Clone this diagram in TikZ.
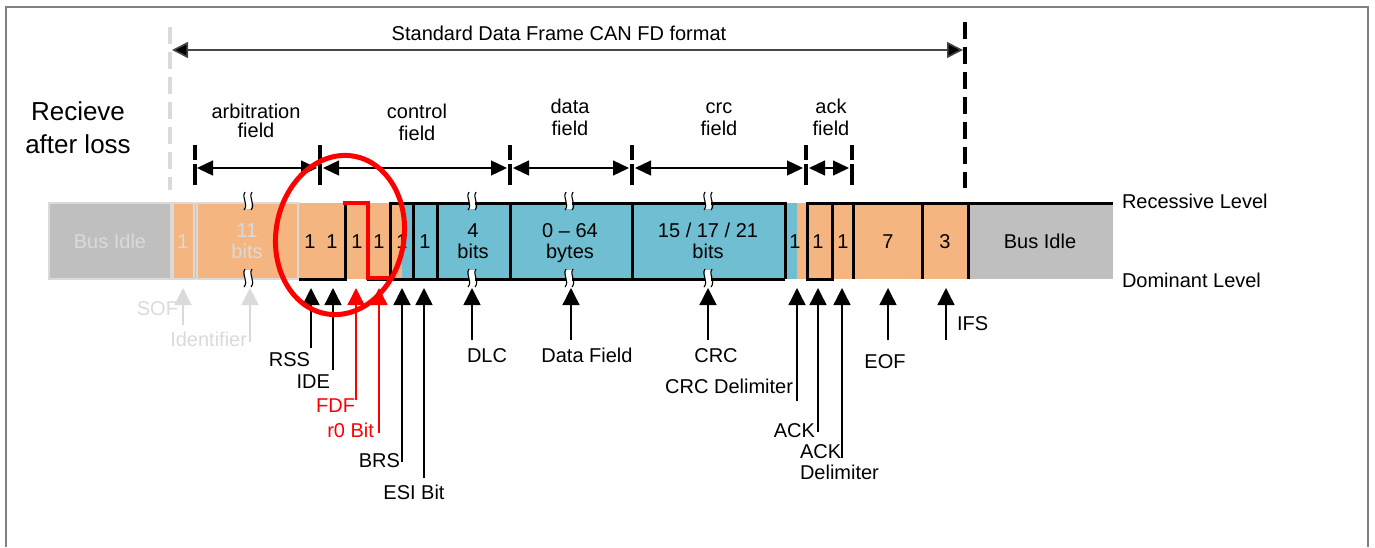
\documentclass[tikz,border=0pt]{standalone}
\usepackage{fontspec}
\setmainfont{Liberation Sans}
\usetikzlibrary{arrows.meta}
\definecolor{canorange}{RGB}{245,181,128}
\definecolor{canblue}{RGB}{111,190,210}
\definecolor{idlegray}{RGB}{191,191,191}
\definecolor{faint}{RGB}{218,218,218}
\definecolor{framegray}{RGB}{128,128,128}
\definecolor{linegray}{RGB}{70,70,70}
\tikzset{
  lbl/.style={inner sep=0pt, outer sep=0pt},
  big/.style={lbl, font=\fontsize{13}{15}\selectfont},
  wave/.style={line width=1.5pt, line join=miter},
  tick/.style={line width=2pt},
  fieldarrow/.style={line width=0.65pt,
    {Triangle[length=8pt,width=7.5pt]}-{Triangle[length=8pt,width=7.5pt]}},
  titlearrow/.style={line width=0.8pt, linegray,
    {Triangle[length=8pt,width=8pt,fill=black]}-{Triangle[length=8pt,width=8pt,fill=black]}},
  uparrow/.style={line width=0.7pt, -{Triangle[length=8.5pt,width=8.5pt]}},
  vdash/.style={line width=2pt, dash pattern=on 8.5pt off 4pt},
  brk/.pic={
    \fill[white] (-3,-8) rectangle (3,8);
    \draw[line width=0.55pt] (-3,-9) .. controls (-7,-3) and (1,3) .. (-4,9);
    \draw[line width=0.55pt] (4,-9) .. controls (0,-3) and (8,3) .. (3,9);
  }
}
\begin{document}
\begin{tikzpicture}[x=0.5pt,y=-0.5pt,font=\fontsize{10}{12}\selectfont]
\useasboundingbox (0,0) rectangle (1375,547);

% outer frame
\draw[framegray, line width=1pt] (6,547) -- (6,7) -- (1368,7) -- (1368,547);

% frame extent arrow
\draw[vdash, faint] (170,27) -- (170,190);
\draw[vdash, black] (965,22) -- (965,188);
\coordinate (fl) at (172,50);
\coordinate (fr) at (963,50);
\draw[titlearrow] (fl) -- (fr);
\node[lbl, anchor=base] (title) at (559,40) {Standard Data Frame CAN FD format};

% side caption
\node[big, anchor=base] (cap1) at (78,120) {Recieve};
\node[big, anchor=base] (cap2) at (78,153) {after loss};

% field ticks and spans
\foreach \x in {195,320,510,632,806,852} {
  \draw[tick] (\x,145) -- (\x,160);
  \draw[tick] (\x,164) -- (\x,185);
}
\coordinate (a1) at (197,168); \coordinate (a2) at (317,168);
\coordinate (c1) at (323,168); \coordinate (c2) at (507,168);
\coordinate (d1) at (513,168); \coordinate (d2) at (629,168);
\coordinate (r1) at (635,168); \coordinate (r2) at (803,168);
\coordinate (k1) at (809,168); \coordinate (k2) at (849,168);
\draw[fieldarrow] (a1) -- (a2);
\draw[fieldarrow] (c1) -- (c2);
\draw[fieldarrow] (d1) -- (d2);
\draw[fieldarrow] (r1) -- (r2);
\draw[fieldarrow] (k1) -- (k2);

\node[lbl, anchor=base] (arbA) at (256,118) {arbitration};
\node[lbl, anchor=base] (arbB) at (256,137) {field};
\node[lbl, anchor=base] (ctlA) at (417,118) {control};
\node[lbl, anchor=base] (ctlB) at (417,140) {field};
\node[lbl, anchor=base] (datA) at (570,113) {data};
\node[lbl, anchor=base] (datB) at (570,135) {field};
\node[lbl, anchor=base] (crcA) at (719,113) {crc};
\node[lbl, anchor=base] (crcB) at (719,135) {field};
\node[lbl, anchor=base] (ackA) at (831,113) {ack};
\node[lbl, anchor=base] (ackB) at (831,135) {field};

% bit cells
\fill[idlegray] (49,203) rectangle (171,279);
\draw[faint, line width=1pt] (49,203) rectangle (171,279);
\fill[canorange] (172,203) rectangle (402,279);
\draw[faint, line width=1pt] (173,203) rectangle (194,279);
\draw[faint, line width=1pt] (197,203) rectangle (298,279);
\fill[canblue] (402,203) rectangle (797,279);
\fill[canorange] (797,203) rectangle (968,279);
\fill[idlegray] (968,203) rectangle (1113,279);

% bus levels
\draw[wave] (299,279) -- (345,279) -- (345,203) -- (368,203) -- (368,279) -- (785,279);
\draw[wave] (390,279) -- (390,203) -- (787,203);
\draw[wave] (807,203) -- (1113,203);
\foreach \x in {413,437,510,632,785,853,922,968}
  \draw[wave] (\x,203) -- (\x,279);
\draw[wave] (807,203) rectangle (832,279);
\draw[red, line width=2pt] (343,203) -- (368,203) -- (368,278) -- (390,278);

% break marks on long fields
\foreach \x in {248,472,569,708} {
  \pic at (\x,201) {brk};
  \pic at (\x,278) {brk};
}

% cell contents
\node[lbl, anchor=base, faint] (idle1) at (110,248) {Bus Idle};
\node[lbl, anchor=base, faint] (sof) at (183,248) {1};
\node[lbl, anchor=base, faint] (idA) at (247,237) {11};
\node[lbl, anchor=base, faint] (idB) at (247,258) {bits};
\node[lbl, anchor=base] (rss) at (310,248) {1};
\node[lbl, anchor=base] (ide) at (332,248) {1};
\node[lbl, anchor=base] (fdf) at (357,248) {1};
\node[lbl, anchor=base] (rzero) at (379,248) {1};
\node[lbl, anchor=base] (brs) at (402,248) {1};
\node[lbl, anchor=base] (esi) at (425,248) {1};
\node[lbl, anchor=base] (dlcA) at (473,237) {4};
\node[lbl, anchor=base] (dlcB) at (473,258) {bits};
\node[lbl, anchor=base] (dataA) at (570,237) {0 – 64};
\node[lbl, anchor=base] (dataB) at (570,258) {bytes};
\node[lbl, anchor=base] (crcvA) at (708,237) {15 / 17 / 21};
\node[lbl, anchor=base] (crcvB) at (708,258) {bits};
\node[lbl, anchor=base] (crcdel) at (795,248) {1};
\node[lbl, anchor=base] (ack) at (818,248) {1};
\node[lbl, anchor=base] (ackdel) at (843,248) {1};
\node[lbl, anchor=base] (eof) at (888,248) {7};
\node[lbl, anchor=base] (ifs) at (945,248) {3};
\node[lbl, anchor=base] (idle2) at (1040,248) {Bus Idle};

\node[lbl, anchor=base west] (rec) at (1122,208) {Recessive Level};
\node[lbl, anchor=base west] (dom) at (1122,287) {Dominant Level};

% pointer labels
\node[lbl, anchor=base east, faint] (nSOF) at (178,315) {SOF};
\node[lbl, anchor=base east, faint] (nID) at (247,346) {Identifier};
\node[lbl, anchor=base east] (nRSS) at (310,366) {RSS};
\node[lbl, anchor=base east] (nIDE) at (330,388) {IDE};
\node[lbl, anchor=base east, red] (nFDF) at (355,412) {FDF};
\node[lbl, anchor=base east, red] (nR0) at (374,437) {r0 Bit};
\node[lbl, anchor=base east] (nBRS) at (400,467) {BRS};
\node[lbl, anchor=base] (nESI) at (414,499) {ESI Bit};
\node[lbl, anchor=base] (nDLC) at (487,362) {DLC};
\node[lbl, anchor=base] (nDF) at (587,362) {Data Field};
\node[lbl, anchor=base] (nCRC) at (716,362) {CRC};
\node[lbl, anchor=base east] (nCD) at (793,393) {CRC Delimiter};
\node[lbl, anchor=base east] (nACK) at (815,437) {ACK};
\node[lbl, anchor=base west] (nADa) at (800,458) {ACK};
\node[lbl, anchor=base west] (nADb) at (800,479) {Delimiter};
\node[lbl, anchor=base] (nEOF) at (885,368) {EOF};
\node[lbl, anchor=base west] (nIFS) at (957,330) {IFS};

% pointer arrows (foot -> tip)
\foreach \n/\x/\y in {SOF/183/325, ID/250/342, RSS/311/348, IDE/333/370,
    FDF/356/400, R0/379/433, BRS/402/462, ESI/424/478, DLC/472/340,
    DF/571/340, CRC/708/340, CD/797/401, ACK/818/432, AD/842/458,
    EOF/888/340, IFS/946/340} {
  \coordinate (f\n) at (\x,\y);
  \coordinate (t\n) at (\x,288);
}
\draw[uparrow, faint] (fSOF) -- (tSOF);
\draw[uparrow, faint] (fID) -- (tID);
\draw[uparrow] (fRSS) -- (tRSS);
\draw[uparrow] (fIDE) -- (tIDE);
\draw[uparrow, red] (fFDF) -- (tFDF);
\draw[uparrow, red] (fR0) -- (tR0);
\draw[uparrow] (fBRS) -- (tBRS);
\draw[uparrow] (fESI) -- (tESI);
\draw[uparrow] (fDLC) -- (tDLC);
\draw[uparrow] (fDF) -- (tDF);
\draw[uparrow] (fCRC) -- (tCRC);
\draw[uparrow] (fCD) -- (tCD);
\draw[uparrow] (fACK) -- (tACK);
\draw[uparrow] (fAD) -- (tAD);
\draw[uparrow] (fEOF) -- (tEOF);
\draw[uparrow] (fIFS) -- (tIFS);

% highlight ring
\draw[red, line width=2.5pt, rotate around={-10:(340,235)}]
  (340,235) ellipse [x radius=32pt, y radius=40pt];
\end{tikzpicture}
\end{document}
